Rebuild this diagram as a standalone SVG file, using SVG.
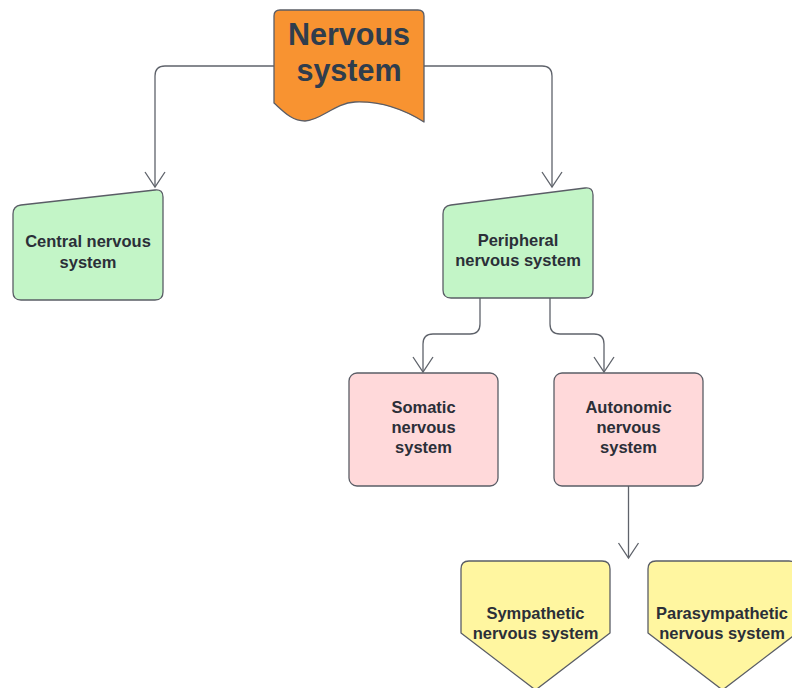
<svg xmlns="http://www.w3.org/2000/svg" width="792" height="688" viewBox="0 0 792 688">
<defs>
<marker id="arr" markerUnits="userSpaceOnUse" viewBox="-16 -11 17 22" markerWidth="17" markerHeight="22" refX="0" refY="0" orient="auto" overflow="visible">
<path d="M-15,-10 L0,0 L-15,10" fill="none" stroke="#5f636b" stroke-width="1.3"/>
</marker>
<style>
.shape{stroke:#5a5d66;stroke-width:1.3;stroke-linejoin:round}
.green{fill:#c3f5c7}
.pink{fill:#ffd9da}
.yellow{fill:#fff6a0}
.orange{fill:#f89331}
.t{font-family:"Liberation Sans",Arial,sans-serif;font-weight:bold;font-size:16.5px;fill:#2b2f38;text-anchor:middle}
.big{font-size:30.5px;fill:#2f3d4d}
.conn{fill:none;stroke:#5f636b;stroke-width:1.3;marker-end:url(#arr)}
</style>
</defs>
<rect width="792" height="688" fill="#ffffff"/>
<g id="connectors">
<path class="conn" d="M274,66 L165,66 Q155,66 155,76 L155,187"/>
<path class="conn" d="M424,66 L542,66 Q552,66 552,76 L552,187"/>
<path class="conn" d="M480,298 L480,324 Q480,334 470,334 L433,334 Q423,334 423,344 L423,372"/>
<path class="conn" d="M550,298 L550,324 Q550,334 560,334 L594,334 Q604,334 604,344 L604,372"/>
<path class="conn" d="M628.5,486 L628.5,558"/>
</g>
<g id="nervous-system">
<path class="shape orange" d="M274,16 Q274,10 280,10 L418,10 Q424,10 424,16 L424,122 C405,110 380,101 355,102 C335,103 320,121 305,121 C292,121 284,112 274,103 Z"/>
<text class="t big" x="349" y="45">Nervous</text>
<text class="t big" x="349" y="81">system</text>
</g>
<g id="central">
<path class="shape green" d="M13,214 Q13,206 21,205 L155,190 Q163,189 163,197 L163,292 Q163,300 155,300 L21,300 Q13,300 13,292 Z"/>
<text class="t" x="88" y="247">Central nervous</text>
<text class="t" x="88" y="268">system</text>
</g>
<g id="peripheral">
<path class="shape green" d="M443,214 Q443,206 451,205 L585,188 Q593,187 593,195 L593,290 Q593,298 585,298 L451,298 Q443,298 443,290 Z"/>
<text class="t" x="518" y="246">Peripheral</text>
<text class="t" x="518" y="266">nervous system</text>
</g>
<g id="somatic">
<rect class="shape pink" x="349" y="373" width="149" height="113" rx="8"/>
<text class="t" x="423.5" y="413">Somatic</text>
<text class="t" x="423.5" y="433">nervous</text>
<text class="t" x="423.5" y="453">system</text>
</g>
<g id="autonomic">
<rect class="shape pink" x="554" y="373" width="149" height="113" rx="8"/>
<text class="t" x="628.5" y="413">Autonomic</text>
<text class="t" x="628.5" y="433">nervous</text>
<text class="t" x="628.5" y="453">system</text>
</g>
<g id="sympathetic">
<path class="shape yellow" d="M469,561 L602,561 Q610,561 610,569 L610,633 L535.5,690 L461,633 L461,569 Q461,561 469,561 Z"/>
<text class="t" x="535.5" y="619">Sympathetic</text>
<text class="t" x="535.5" y="639">nervous system</text>
</g>
<g id="parasympathetic">
<path class="shape yellow" d="M656,561 L789,561 Q797,561 797,569 L797,633 L722.5,690 L648,633 L648,569 Q648,561 656,561 Z"/>
<text class="t" x="722" y="619">Parasympathetic</text>
<text class="t" x="722" y="639">nervous system</text>
</g>
</svg>
